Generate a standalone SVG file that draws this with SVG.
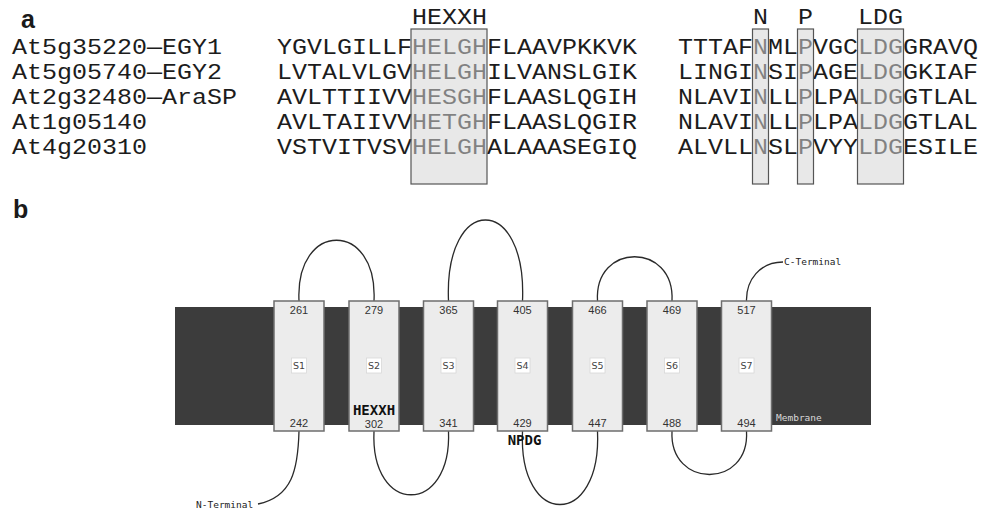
<svg xmlns="http://www.w3.org/2000/svg" width="992" height="509" viewBox="0 0 992 509">
<style>
.pl{font-family:"Liberation Sans",Arial,sans-serif;font-weight:bold;font-size:25px;fill:#1a1a1a}
.seq{font-family:"Liberation Mono","Courier New",monospace;font-size:22px;fill:#1c1c1c}
.hl{fill:#d6d6d6;fill-opacity:0.55;stroke:#555;stroke-width:1.2}
.mem{fill:#3c3c3c}
.tm{fill:#ececec;stroke:#6e6e6e;stroke-width:1.5}
.num{font-family:"Liberation Sans",Arial,sans-serif;font-size:11px;fill:#333;text-anchor:middle}
.sb{fill:#fff;stroke:#d8d8d8;stroke-width:0.8}
.sl{font-family:"DejaVu Sans",Verdana,sans-serif;font-size:9.5px;fill:#444;text-anchor:middle}
.mot{font-family:"DejaVu Sans Mono",monospace;font-weight:bold;font-size:14px;fill:#111;text-anchor:middle}
.small{font-family:"DejaVu Sans Mono",monospace;font-size:9.5px;fill:#222}
.loop{fill:none;stroke:#2a2a2a;stroke-width:1.3}
</style>

<g id="panel-a">
<text class="pl" x="21" y="28">a</text>
<g id="names">
<text class="seq" x="12" y="54" textLength="210" lengthAdjust="spacingAndGlyphs">At5g35220—EGY1</text>
<text class="seq" x="12" y="79" textLength="210" lengthAdjust="spacingAndGlyphs">At5g05740—EGY2</text>
<text class="seq" x="12" y="104" textLength="225" lengthAdjust="spacingAndGlyphs">At2g32480—AraSP</text>
<text class="seq" x="12" y="129" textLength="135" lengthAdjust="spacingAndGlyphs">At1g05140</text>
<text class="seq" x="12" y="154" textLength="135" lengthAdjust="spacingAndGlyphs">At4g20310</text>
</g>
<g id="seq1">
<text class="seq" x="277" y="54" textLength="360" lengthAdjust="spacingAndGlyphs">YGVLGILLFHELGHFLAAVPKKVK</text>
<text class="seq" x="277" y="79" textLength="360" lengthAdjust="spacingAndGlyphs">LVTALVLGVHELGHILVANSLGIK</text>
<text class="seq" x="277" y="104" textLength="360" lengthAdjust="spacingAndGlyphs">AVLTTIIVVHESGHFLAASLQGIH</text>
<text class="seq" x="277" y="129" textLength="360" lengthAdjust="spacingAndGlyphs">AVLTAIIVVHETGHFLAASLQGIR</text>
<text class="seq" x="277" y="154" textLength="360" lengthAdjust="spacingAndGlyphs">VSTVITVSVHELGHALAAASEGIQ</text>
</g>
<g id="seq2">
<text class="seq" x="678" y="54" textLength="300" lengthAdjust="spacingAndGlyphs">TTTAFNMLPVGCLDGGRAVQ</text>
<text class="seq" x="678" y="79" textLength="300" lengthAdjust="spacingAndGlyphs">LINGINSIPAGELDGGKIAF</text>
<text class="seq" x="678" y="104" textLength="300" lengthAdjust="spacingAndGlyphs">NLAVINLLPLPALDGGTLAL</text>
<text class="seq" x="678" y="129" textLength="300" lengthAdjust="spacingAndGlyphs">NLAVINLLPLPALDGGTLAL</text>
<text class="seq" x="678" y="154" textLength="300" lengthAdjust="spacingAndGlyphs">ALVLLNSLPVYYLDGESILE</text>
</g>
<g id="motif-HEXXH">
<rect class="hl" x="411" y="29" width="76" height="155"/>
<text class="seq" x="412" y="24" textLength="75" lengthAdjust="spacingAndGlyphs">HEXXH</text>
</g>
<g id="motif-N">
<rect class="hl" x="752.5" y="29" width="16" height="155"/>
<text class="seq" x="753" y="24" textLength="15" lengthAdjust="spacingAndGlyphs">N</text>
</g>
<g id="motif-P">
<rect class="hl" x="797.5" y="29" width="16" height="155"/>
<text class="seq" x="798" y="24" textLength="15" lengthAdjust="spacingAndGlyphs">P</text>
</g>
<g id="motif-LDG">
<rect class="hl" x="857.5" y="29" width="46" height="155"/>
<text class="seq" x="858" y="24" textLength="45" lengthAdjust="spacingAndGlyphs">LDG</text>
</g>
</g>

<g id="panel-b">
<text class="pl" x="13" y="218">b</text>
<g id="membrane">
<rect class="mem" x="175" y="307" width="696" height="118"/>
<text class="small" x="776" y="421" style="fill:#d8d8d8">Membrane</text>
</g>

<g id="connectors">
<path class="loop" d="M299,431 C298,470 292,497 258,504"/>
<path class="loop" d="M299,301 C295,220 378,220 374,301"/>
<path class="loop" d="M374,431 C370,516 452,516 448.5,431"/>
<path class="loop" d="M448.5,301 C444,193 527,193 522.5,301"/>
<path class="loop" d="M522.5,431 C518,529 602,529 597.5,431"/>
<path class="loop" d="M597.5,301 C594,242 675,242 672,301"/>
<path class="loop" d="M672,431 C669,489 750,489 746.5,431"/>
<path class="loop" d="M746.5,301 C746,280 760,262 783,262"/>
</g>

<g id="S1">
<rect class="tm" x="274" y="301" width="50" height="130"/>
<text class="num" x="299" y="313.5">261</text>
<rect class="sb" x="291.5" y="358" width="15" height="15"/>
<text class="sl" x="299" y="369">S1</text>
<text class="num" x="299" y="427">242</text>
</g>
<g id="S2">
<rect class="tm" x="349" y="301" width="50" height="130"/>
<text class="num" x="374" y="313.5">279</text>
<rect class="sb" x="366.5" y="358" width="15" height="15"/>
<text class="sl" x="374" y="369">S2</text>
<text class="mot" x="374" y="415">HEXXH</text>
<text class="num" x="374" y="427.5">302</text>
</g>
<g id="S3">
<rect class="tm" x="423.5" y="301" width="50" height="130"/>
<text class="num" x="448.5" y="313.5">365</text>
<rect class="sb" x="441" y="358" width="15" height="15"/>
<text class="sl" x="448.5" y="369">S3</text>
<text class="num" x="448.5" y="427">341</text>
</g>
<g id="S4">
<rect class="tm" x="497.5" y="301" width="50" height="130"/>
<text class="num" x="522.5" y="313.5">405</text>
<rect class="sb" x="515" y="358" width="15" height="15"/>
<text class="sl" x="522.5" y="369">S4</text>
<text class="num" x="522.5" y="427">429</text>
</g>
<g id="S5">
<rect class="tm" x="572.5" y="301" width="50" height="130"/>
<text class="num" x="597.5" y="313.5">466</text>
<rect class="sb" x="590" y="358" width="15" height="15"/>
<text class="sl" x="597.5" y="369">S5</text>
<text class="num" x="597.5" y="427">447</text>
</g>
<g id="S6">
<rect class="tm" x="647" y="301" width="50" height="130"/>
<text class="num" x="672" y="313.5">469</text>
<rect class="sb" x="664.5" y="358" width="15" height="15"/>
<text class="sl" x="672" y="369">S6</text>
<text class="num" x="672" y="427">488</text>
</g>
<g id="S7">
<rect class="tm" x="721.5" y="301" width="50" height="130"/>
<text class="num" x="746.5" y="313.5">517</text>
<rect class="sb" x="739" y="358" width="15" height="15"/>
<text class="sl" x="746.5" y="369">S7</text>
<text class="num" x="746.5" y="427">494</text>
</g>

<text class="mot" x="524.5" y="445">NPDG</text>
<text class="small" x="784" y="265">C-Terminal</text>
<text class="small" x="196" y="508">N-Terminal</text>
</g>
</svg>
